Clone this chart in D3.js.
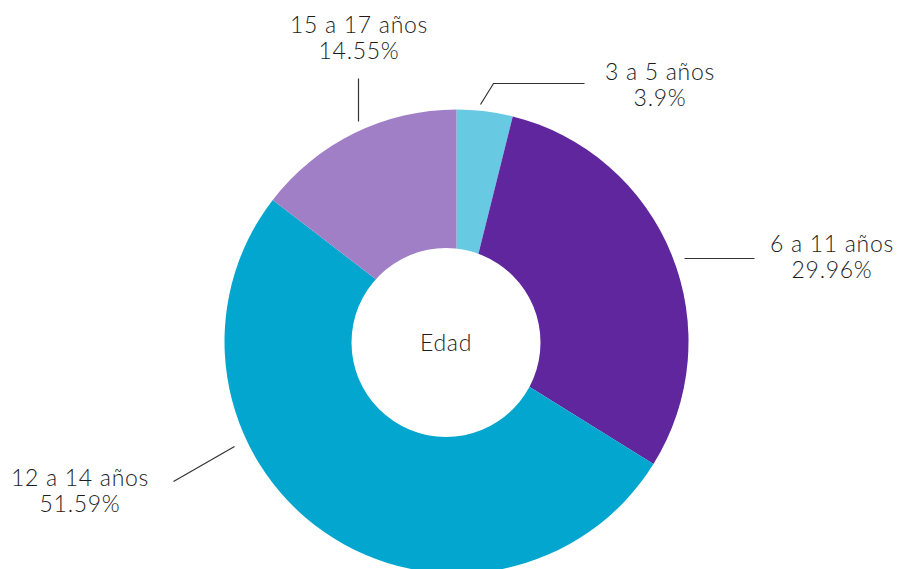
<!DOCTYPE html>
<html>
<head>
<meta charset="utf-8">
<script src="https://cdn.jsdelivr.net/npm/d3@7"></script>
<style>
  html, body { margin: 0; padding: 0; background: #fff; }
  svg { display: block; }
  text { font-family: Lato, "Open Sans", sans-serif; font-weight: 300; fill: #1c1c1c; letter-spacing: 0.7px; }
</style>
</head>
<body>
<svg id="chart"></svg>
<script>
// Data
const categories = ["3 a 5 años", "6 a 11 años", "12 a 14 años", "15 a 17 años"];
const percentages = [3.9, 29.96, 51.59, 14.55];
const colors = ["#67cae2", "#5f269e", "#02a6ce", "#a07fc6"];
const centerLabel = "Edad";

// label layout (leader line points relative to pie centre, text anchor point)
const labelLayout = [
    { line: [[24, -237], [37, -258], [128, -258]], text: [660, 80] },
    { line: [[228, -83], [298, -83]], text: [832, 252] },
    { line: [[-222, 105], [-283, 140]], text: [80, 486] },
    { line: [[-98, -220], [-98, -263]], text: [359, 33] }
];

const width = 897, height = 569;
const cx = 456.5, cy = 341.5, outerR = 232;
const hole = { x: 446, y: 342.5, r: 94.5 };

const svg = d3.select("#chart")
    .attr("width", width)
    .attr("height", height);

const data = categories.map((c, i) => ({ cat: c, value: percentages[i], color: colors[i] }));

const pie = d3.pie()
    .value(d => d.value)
    .sort(null);

const arc = d3.arc()
    .innerRadius(0)
    .outerRadius(outerR);

const chart = svg.append("g")
    .attr("transform", `translate(${cx},${cy})`);

chart.selectAll(".arc")
    .data(pie(data))
    .join("path")
    .attr("class", "arc")
    .attr("fill", d => d.data.color)
    .attr("d", arc);

// the hole is a separate white disc, slightly off centre
svg.append("circle")
    .attr("cx", hole.x)
    .attr("cy", hole.y)
    .attr("r", hole.r)
    .attr("fill", "#fff");

svg.append("text")
    .attr("x", hole.x)
    .attr("y", hole.y + 8)
    .attr("text-anchor", "middle")
    .style("font-size", "23px")
    .text(centerLabel);

// leader lines
const line = d3.line();
chart.selectAll(".leader")
    .data(labelLayout)
    .join("path")
    .attr("class", "leader")
    .attr("d", d => line(d.line))
    .attr("fill", "none")
    .attr("stroke", "#333")
    .attr("stroke-width", 1.2);

// labels
const labels = svg.selectAll(".label")
    .data(data)
    .join("text")
    .attr("class", "label")
    .attr("text-anchor", "middle")
    .style("font-size", "23px");

labels.append("tspan")
    .attr("x", (d, i) => labelLayout[i].text[0])
    .attr("y", (d, i) => labelLayout[i].text[1])
    .text(d => d.cat);

labels.append("tspan")
    .attr("x", (d, i) => labelLayout[i].text[0])
    .attr("y", (d, i) => labelLayout[i].text[1] + 26)
    .text(d => d.value + "%");
</script>
</body>
</html>
